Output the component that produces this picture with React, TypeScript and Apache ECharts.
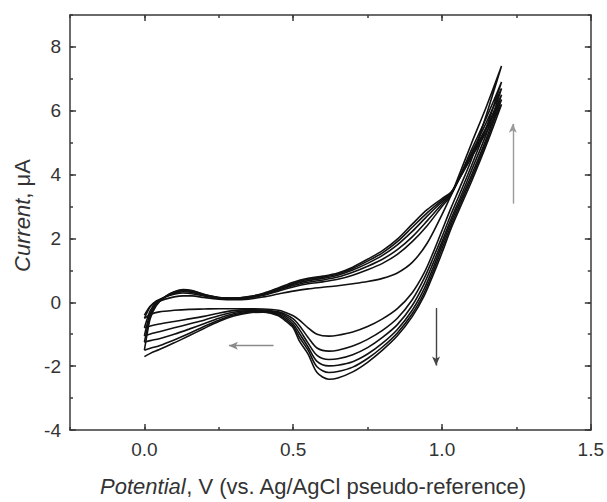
import React, { useEffect, useRef } from "react";
import * as echarts from "echarts";

// Potential grids (V)
const forwardPotential = [0, 0.01, 0.02, 0.04, 0.07, 0.1, 0.13, 0.16, 0.2, 0.25, 0.3, 0.35, 0.4, 0.45, 0.5, 0.55, 0.6, 0.65, 0.7, 0.75, 0.8, 0.85, 0.9, 0.95, 1.0, 1.03, 1.06, 1.1, 1.15, 1.2];
const reversePotential = [1.2, 1.15, 1.1, 1.06, 1.03, 1.0, 0.97, 0.94, 0.9, 0.85, 0.8, 0.75, 0.7, 0.65, 0.62, 0.58, 0.55, 0.52, 0.5, 0.47, 0.45, 0.4, 0.35, 0.3, 0.25, 0.2, 0.15, 0.1, 0.05, 0.02, 0];

// Forward (anodic) scan currents, µA
const forward1 = [-0.4, -0.25, -0.12, 0.0, 0.1, 0.17, 0.2, 0.2, 0.15, 0.1, 0.08, 0.1, 0.17, 0.26, 0.35, 0.42, 0.47, 0.52, 0.58, 0.65, 0.75, 0.92, 1.25, 1.85, 2.75, 3.35, 4.05, 5.0, 6.15, 7.4];
const forward2 = [-0.5, -0.3, -0.13, 0.04, 0.17, 0.25, 0.29, 0.27, 0.2, 0.13, 0.11, 0.14, 0.22, 0.35, 0.48, 0.58, 0.64, 0.72, 0.85, 1.02, 1.22, 1.5, 1.9, 2.4, 3.0, 3.35, 3.95, 4.8, 5.8, 6.9];
const forward3 = [-0.8, -0.5, -0.25, 0.0, 0.17, 0.28, 0.33, 0.31, 0.22, 0.14, 0.12, 0.15, 0.24, 0.38, 0.53, 0.63, 0.7, 0.79, 0.94, 1.13, 1.35, 1.65, 2.05, 2.55, 3.08, 3.38, 3.93, 4.7, 5.65, 6.7];
const forward4 = [-1.05, -0.65, -0.33, -0.04, 0.17, 0.3, 0.36, 0.34, 0.23, 0.14, 0.12, 0.16, 0.26, 0.41, 0.57, 0.68, 0.75, 0.85, 1.01, 1.22, 1.47, 1.8, 2.22, 2.7, 3.15, 3.4, 3.92, 4.65, 5.5, 6.5];
const forward5 = [-1.25, -0.8, -0.42, -0.07, 0.18, 0.32, 0.38, 0.36, 0.24, 0.15, 0.13, 0.17, 0.27, 0.43, 0.6, 0.72, 0.79, 0.89, 1.06, 1.29, 1.55, 1.9, 2.35, 2.8, 3.2, 3.43, 3.9, 4.6, 5.45, 6.35];
const forward6 = [-1.5, -0.95, -0.5, -0.1, 0.18, 0.33, 0.4, 0.37, 0.25, 0.15, 0.13, 0.18, 0.28, 0.45, 0.63, 0.75, 0.82, 0.92, 1.1, 1.35, 1.62, 1.98, 2.45, 2.9, 3.25, 3.45, 3.9, 4.55, 5.35, 6.2];

// Reverse (cathodic) scan currents, µA
const reverse1 = [7.4, 5.9, 4.5, 3.6, 2.95, 2.25, 1.55, 0.92, 0.3, -0.2, -0.52, -0.76, -0.93, -1.03, -1.06, -1.0, -0.8, -0.55, -0.42, -0.3, -0.25, -0.21, -0.2, -0.2, -0.2, -0.21, -0.22, -0.25, -0.3, -0.38, -0.5];
const reverse2 = [6.9, 5.5, 4.3, 3.4, 2.75, 2.05, 1.38, 0.75, 0.08, -0.5, -0.88, -1.16, -1.37, -1.5, -1.53, -1.43, -1.1, -0.72, -0.52, -0.36, -0.3, -0.24, -0.23, -0.26, -0.34, -0.44, -0.52, -0.6, -0.68, -0.74, -0.8];
const reverse3 = [6.7, 5.3, 4.15, 3.25, 2.6, 1.9, 1.22, 0.58, -0.1, -0.7, -1.1, -1.42, -1.64, -1.77, -1.79, -1.66, -1.28, -0.84, -0.6, -0.4, -0.33, -0.26, -0.26, -0.31, -0.42, -0.56, -0.68, -0.8, -0.92, -0.99, -1.05];
const reverse4 = [6.5, 5.15, 4.0, 3.15, 2.5, 1.8, 1.08, 0.42, -0.25, -0.85, -1.28, -1.62, -1.86, -1.97, -1.99, -1.85, -1.4, -0.96, -0.68, -0.45, -0.36, -0.28, -0.29, -0.36, -0.5, -0.67, -0.84, -1.0, -1.14, -1.2, -1.25];
const reverse5 = [6.35, 5.05, 3.9, 3.05, 2.4, 1.68, 0.96, 0.3, -0.36, -0.96, -1.4, -1.76, -2.03, -2.17, -2.2, -2.02, -1.5, -1.08, -0.74, -0.5, -0.39, -0.3, -0.31, -0.4, -0.56, -0.76, -0.98, -1.18, -1.36, -1.44, -1.5];
const reverse6 = [6.2, 4.95, 3.8, 2.95, 2.3, 1.55, 0.85, 0.2, -0.45, -1.05, -1.5, -1.88, -2.18, -2.37, -2.41, -2.2, -1.62, -1.2, -0.8, -0.55, -0.42, -0.31, -0.33, -0.43, -0.6, -0.82, -1.05, -1.27, -1.48, -1.6, -1.7];

const forwardScans = [forward1, forward2, forward3, forward4, forward5, forward6];
const reverseScans = [reverse1, reverse2, reverse3, reverse4, reverse5, reverse6];

// Tick values
const xMajorTicks = [0, 0.5, 1.0, 1.5];
const yMajorTicks = [-4, -2, 0, 2, 4, 6, 8];

// Scan-direction arrows (start, end, colour) in data units
const arrowStarts = [[1.238, 3.09], [0.98, -0.18], [0.434, -1.36]];
const arrowEnds = [[1.238, 5.59], [0.98, -1.98], [0.284, -1.36]];
const arrowColors = ["#9a9a9a", "#444444", "#8a8a8a"];

const FONT = "'Liberation Sans', Arial, Helvetica, sans-serif";
const AXIS_COLOR = "#3a3a3a";
const TEXT_COLOR = "#333333";

export default function App() {
  const ref = useRef<HTMLDivElement>(null);

  useEffect(() => {
    if (!ref.current) return;
    const chart = echarts.init(ref.current, undefined, { renderer: "svg" });

    const cycleSeries = forwardScans.map((fwd, c) => {
      const rev = reverseScans[c];
      const data: number[][] = forwardPotential.map((v, i) => [v, fwd[i]]);
      for (let i = 1; i < reversePotential.length; i++) data.push([reversePotential[i], rev[i]]);
      return {
        type: "line",
        name: "cycle " + (c + 1),
        data,
        xAxisIndex: 0,
        yAxisIndex: 0,
        showSymbol: false,
        smooth: 0.3,
        lineStyle: { color: "#111", width: 1.6 },
        silent: true,
        z: 3,
      };
    });

    const arrowSeries = {
      type: "line",
      data: [],
      xAxisIndex: 0,
      yAxisIndex: 0,
      silent: true,
      markLine: {
        silent: true,
        animation: false,
        symbol: ["none", "arrow"],
        symbolSize: [6, 9],
        label: { show: false },
        data: arrowStarts.map((s, i) => [
          { coord: s, lineStyle: { color: arrowColors[i], width: 1.4, type: "solid" }, itemStyle: { color: arrowColors[i] } },
          { coord: arrowEnds[i] },
        ]),
      },
    };

    const lineStyle = { color: AXIS_COLOR, width: 1.5 };
    const labelStyle = { fontFamily: FONT, fontSize: 19, color: TEXT_COLOR };
    const nameStyle = {
      fontFamily: FONT,
      fontSize: 22,
      color: TEXT_COLOR,
      rich: { i: { fontFamily: FONT, fontSize: 22, fontStyle: "italic", color: TEXT_COLOR } },
    };

    const xBase = { type: "value", min: -0.25, max: 1.5, splitLine: { show: false } };
    const yBase = { type: "value", min: -4, max: 9, splitLine: { show: false } };

    chart.setOption({
      animation: false,
      backgroundColor: "#ffffff",
      grid: { left: 70, right: 16, top: 15, bottom: 69, containLabel: false },
      xAxis: [
        {
          ...xBase,
          position: "bottom",
          interval: 0.25,
          axisLine: { show: true, onZero: false, lineStyle },
          axisTick: { show: true, inside: true, length: 3, lineStyle },
          axisLabel: { show: false },
        },
        {
          ...xBase,
          position: "bottom",
          axisLine: { show: false, onZero: false },
          axisTick: { show: true, inside: true, length: 6, lineStyle, customValues: xMajorTicks },
          axisLabel: { show: true, margin: 10, customValues: xMajorTicks, formatter: (v: number) => v.toFixed(1), ...labelStyle },
          name: "{i|Potential}, V (vs. Ag/AgCl pseudo-reference)",
          nameLocation: "middle",
          nameGap: 45,
          nameTextStyle: { ...nameStyle, padding: [0, 34, 0, 0] },
        },
        {
          ...xBase,
          position: "top",
          interval: 0.25,
          axisLine: { show: true, onZero: false, lineStyle },
          axisTick: { show: true, inside: true, length: 3, lineStyle },
          axisLabel: { show: false },
        },
        {
          ...xBase,
          position: "top",
          axisLine: { show: false, onZero: false },
          axisTick: { show: true, inside: true, length: 6, lineStyle, customValues: xMajorTicks },
          axisLabel: { show: false, customValues: xMajorTicks },
        },
      ],
      yAxis: [
        {
          ...yBase,
          position: "left",
          interval: 1,
          axisLine: { show: true, onZero: false, lineStyle },
          axisTick: { show: true, inside: true, length: 3, lineStyle },
          axisLabel: { show: false },
        },
        {
          ...yBase,
          position: "left",
          axisLine: { show: false, onZero: false },
          axisTick: { show: true, inside: true, length: 6, lineStyle, customValues: yMajorTicks },
          axisLabel: { show: true, margin: 9, customValues: yMajorTicks, formatter: (v: number) => String(v), ...labelStyle },
          name: "{i|Current}, μA",
          nameLocation: "middle",
          nameGap: 36,
          nameRotate: 90,
          nameTextStyle: { ...nameStyle, padding: [0, 0, 0, 14] },
        },
        {
          ...yBase,
          position: "right",
          interval: 1,
          axisLine: { show: true, onZero: false, lineStyle },
          axisTick: { show: true, inside: true, length: 3, lineStyle },
          axisLabel: { show: false },
        },
        {
          ...yBase,
          position: "right",
          axisLine: { show: false, onZero: false },
          axisTick: { show: true, inside: true, length: 6, lineStyle, customValues: yMajorTicks },
          axisLabel: { show: false, customValues: yMajorTicks },
        },
      ],
      series: [...cycleSeries, arrowSeries],
    });

    return () => chart.dispose();
  }, []);

  return (
    <div
      ref={ref}
      style={{ position: "fixed", left: 0, top: 0, width: 607, height: 502, background: "#fff" }}
    />
  );
}
